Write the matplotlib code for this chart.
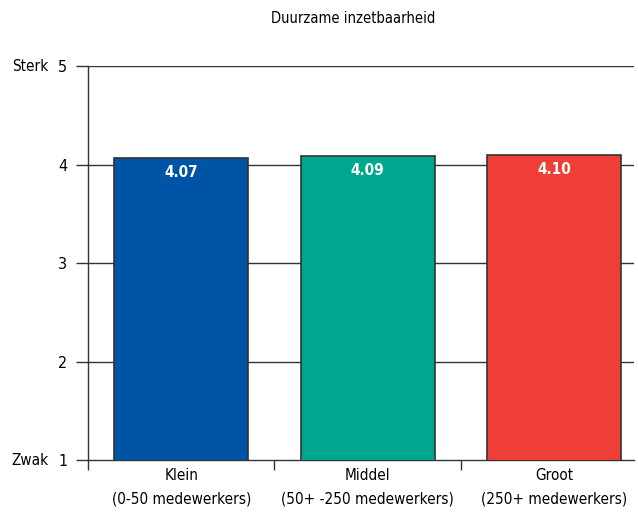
import matplotlib.pyplot as plt
import matplotlib.transforms as mtransforms
from matplotlib import font_manager

# Data
categories = ['Klein\n(0-50 medewerkers)', 'Middel\n(50+ -250 medewerkers)', 'Groot\n(250+ medewerkers)']
scores = [4.07, 4.09, 4.10]
bar_colors = ['#0054a6', '#00a78e', '#ef3e36']
y_ticks = [1, 2, 3, 4, 5]
scale_labels = {5: 'Sterk', 1: 'Zwak'}
title = 'Duurzame inzetbaarheid'

names = {f.name for f in font_manager.fontManager.ttflist}
if 'Liberation Sans Narrow' in names:
    plt.rcParams['font.family'] = ['Liberation Sans Narrow', 'DejaVu Sans']
    fs = 11
else:
    plt.rcParams['font.family'] = ['DejaVu Sans']
    plt.rcParams['font.stretch'] = 'condensed'
    condensed = any(f.name == 'DejaVu Sans' and f.stretch == 'condensed'
                    for f in font_manager.fontManager.ttflist)
    fs = 10.5 if condensed else 9.5

fig = plt.figure(figsize=(6.38, 5.16), dpi=100)
ax = fig.add_axes([0.138, 0.1085, 0.856, 0.7635])

x = list(range(len(categories)))
ax.bar(x, scores, width=0.72, bottom=0, color=bar_colors, edgecolor='#333333',
       linewidth=1.2, zorder=3)

for xi, v in zip(x, scores):
    ax.text(xi, v - 0.15, f'{v:.2f}', ha='center', va='center', color='white',
            fontsize=fs + 0.5, fontweight='bold', zorder=4)

ax.set_ylim(1, 5)
ax.set_xlim(-0.5, 2.43)
ax.set_yticks(y_ticks)
ax.set_yticklabels([str(t) for t in y_ticks], fontsize=fs + 1)
ax.tick_params(axis='y', length=9, width=1, pad=6, color='#333333')

ax.set_xticks(x)
ax.set_xticklabels(categories, fontsize=fs + 0.5, linespacing=1.7)
ax.tick_params(axis='x', which='major', length=0, pad=6)
ax.set_xticks([-0.5, 0.5, 1.5], minor=True)
ax.tick_params(axis='x', which='minor', length=7, width=1, direction='out', color='#333333')

for y in y_ticks[1:]:
    ax.axhline(y, color='#333333', linewidth=1, zorder=1)

for s in ['top', 'right']:
    ax.spines[s].set_visible(False)
for s in ['left', 'bottom']:
    ax.spines[s].set_color('#333333')
    ax.spines[s].set_linewidth(1)

trans = mtransforms.blended_transform_factory(fig.transFigure, ax.transData)
for y, lab in scale_labels.items():
    ax.text(0.076, y, lab, transform=trans, ha='right', va='center', fontsize=fs + 0.5)

fig.text(0.553, 0.965, title, ha='center', va='center', fontsize=fs)

fig.savefig('out.png', dpi=100)
